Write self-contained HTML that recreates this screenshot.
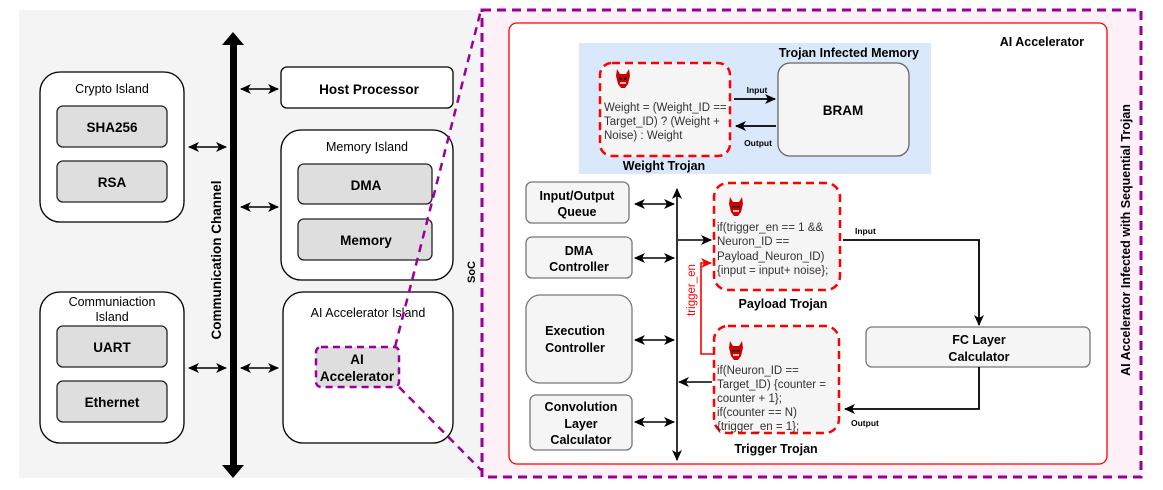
<!DOCTYPE html>
<html><head><meta charset="utf-8"><style>
body{margin:0;background:#fff}
svg{display:block;font-family:"Liberation Sans",Arial,sans-serif}
.b{font-weight:bold}
</style></head><body>
<svg width="1163" height="490" viewBox="0 0 1163 490" xmlns="http://www.w3.org/2000/svg">
<defs>
<marker id="a" markerWidth="12" markerHeight="12" refX="10" refY="6" orient="auto-start-reverse" markerUnits="userSpaceOnUse"><path d="M0,1 L11,6 L0,11 L3,6 Z" fill="#000"/></marker>
<marker id="r" markerWidth="12" markerHeight="12" refX="10" refY="6" orient="auto" markerUnits="userSpaceOnUse"><path d="M0,1 L11,6 L0,11 L3,6 Z" fill="#f00"/></marker>
<g id="dev"><path d="M-6,-9 L-3,-4 L3,-4 L6,-9 L7,-2 L5,6 L2,10 L-2,10 L-5,6 L-7,-2 Z" fill="#c00"/><path d="M-4,0 L-1,1 M4,0 L1,1" stroke="#000" stroke-width="1.5"/><path d="M-3,5 L3,5" stroke="#fff" stroke-width="1.5"/></g>
</defs>
<rect x="19" y="10" width="462" height="468" fill="#f4f4f4"/>
<rect x="482" y="10" width="659" height="467" fill="#fdf0f7" stroke="#990099" stroke-width="3" stroke-dasharray="9,6"/>
<rect x="509" y="23" width="598" height="441" rx="8" fill="#fff" stroke="#f00" stroke-width="1.3"/>

<rect x="40" y="72" width="144" height="150" rx="20" fill="#fff" stroke="#000" stroke-width="1.3"/>
<text x="112" y="93" font-size="12.5" text-anchor="middle">Crypto Island</text>
<rect x="57" y="106" width="110" height="41" rx="6" fill="#dedede" stroke="#222" stroke-width="1.3"/>
<text x="112" y="132" font-size="13.5" class="b" text-anchor="middle">SHA256</text>
<rect x="57" y="161" width="110" height="41" rx="6" fill="#dedede" stroke="#222" stroke-width="1.3"/>
<text x="112" y="187" font-size="13.5" class="b" text-anchor="middle">RSA</text>

<rect x="40" y="292" width="144" height="151" rx="20" fill="#fff" stroke="#000" stroke-width="1.3"/>
<text x="112" y="306" font-size="12.5" text-anchor="middle">Communiaction</text>
<text x="112" y="321" font-size="12.5" text-anchor="middle">Island</text>
<rect x="57" y="326" width="110" height="41" rx="6" fill="#dedede" stroke="#222" stroke-width="1.3"/>
<text x="112" y="352" font-size="13.5" class="b" text-anchor="middle">UART</text>
<rect x="57" y="381" width="110" height="41" rx="6" fill="#dedede" stroke="#222" stroke-width="1.3"/>
<text x="112" y="407" font-size="13.5" class="b" text-anchor="middle">Ethernet</text>

<rect x="230" y="42" width="7" height="426" fill="#000"/>
<path d="M222,45 L233,32 L244,45 Z M222,465 L233,478 L244,465 Z" fill="#000"/>
<text transform="translate(221,260) rotate(-90)" font-size="13.5" class="b" text-anchor="middle">Communication Channel</text>

<rect x="281" y="67" width="172" height="41" rx="6" fill="#fff" stroke="#000" stroke-width="1.3"/>
<text x="369" y="94" font-size="13.5" class="b" text-anchor="middle">Host Processor</text>
<rect x="281" y="130" width="172" height="150" rx="20" fill="#fff" stroke="#000" stroke-width="1.3"/>
<text x="367" y="151" font-size="12.5" text-anchor="middle">Memory Island</text>
<rect x="298" y="164" width="134" height="40" rx="6" fill="#dedede" stroke="#222" stroke-width="1.3"/>
<text x="366" y="190" font-size="13.5" class="b" text-anchor="middle">DMA</text>
<rect x="298" y="219" width="134" height="41" rx="6" fill="#dedede" stroke="#222" stroke-width="1.3"/>
<text x="366" y="245" font-size="13.5" class="b" text-anchor="middle">Memory</text>
<rect x="283" y="292" width="170" height="151" rx="20" fill="#fff" stroke="#000" stroke-width="1.3"/>
<text x="368" y="317" font-size="12.5" text-anchor="middle">AI Accelerator Island</text>
<rect x="316" y="347" width="83" height="40" rx="5" fill="#dedede" stroke="#990099" stroke-width="2.5" stroke-dasharray="7,5"/>
<text x="357" y="364" font-size="13.5" class="b" text-anchor="middle">AI</text>
<text x="357" y="381" font-size="13.5" class="b" text-anchor="middle">Accelerator</text>
<path d="M395,347 L481,10 M399,387 L481,470" stroke="#990099" stroke-width="2.5" stroke-dasharray="8,6" fill="none"/>
<text transform="translate(475,272) rotate(-90)" font-size="11" class="b" text-anchor="middle">SoC</text>

<g stroke="#000" stroke-width="1.6" marker-start="url(#a)" marker-end="url(#a)">
<line x1="189" y1="147" x2="226" y2="147"/>
<line x1="241" y1="89" x2="278" y2="89"/>
<line x1="241" y1="207" x2="278" y2="207"/>
<line x1="189" y1="368" x2="226" y2="368"/>
<line x1="241" y1="368" x2="278" y2="368"/>
</g>

<text x="1084" y="46" font-size="12.5" class="b" text-anchor="end">AI Accelerator</text>
<text transform="translate(1130,240) rotate(-90)" font-size="12.5" class="b" text-anchor="middle">AI Accelerator Infected with Sequential Trojan</text>

<rect x="579" y="43" width="352" height="131" fill="#dae8fc"/>
<text x="919" y="57" font-size="12.5" class="b" text-anchor="end">Trojan Infected Memory</text>
<rect x="600" y="63" width="130" height="93" rx="12" fill="#f5f5f5" stroke="#f00" stroke-width="2.5" stroke-dasharray="8,5"/>
<use href="#dev" transform="translate(623,78)"/>
<text font-size="11.5" fill="#333"><tspan x="604" y="111">Weight = (Weight_ID ==</tspan><tspan x="604" y="125">Target_ID) ? (Weight +</tspan><tspan x="604" y="139">Noise) : Weight</tspan></text>
<text x="664" y="170" font-size="12.5" class="b" text-anchor="middle">Weight Trojan</text>
<rect x="778" y="63" width="131" height="93" rx="12" fill="#f5f5f5" stroke="#666" stroke-width="1.3"/>
<text x="843" y="115" font-size="13.5" class="b" text-anchor="middle">BRAM</text>
<text x="757" y="93" font-size="8.5" class="b" text-anchor="middle">Input</text>
<line x1="734" y1="99" x2="775" y2="99" stroke="#000" stroke-width="1.8" marker-end="url(#a)"/>
<line x1="776" y1="126" x2="736" y2="126" stroke="#000" stroke-width="1.8" marker-end="url(#a)"/>
<text x="758" y="146" font-size="8.5" class="b" text-anchor="middle">Output</text>

<line x1="677" y1="189" x2="677" y2="460" stroke="#000" stroke-width="1.6" marker-start="url(#a)" marker-end="url(#a)"/>
<g fill="#f5f5f5" stroke="#777" stroke-width="1.3">
<rect x="526" y="182" width="103" height="41" rx="6"/>
<rect x="526" y="237" width="106" height="41" rx="6"/>
<rect x="526" y="295" width="106" height="88" rx="14"/>
<rect x="530" y="395" width="102" height="55" rx="6"/>
</g>
<g font-size="12.5" class="b" text-anchor="middle">
<text x="577" y="200">Input/Output</text><text x="577" y="216">Queue</text>
<text x="579" y="255">DMA</text><text x="579" y="271">Controller</text>
<text x="575" y="335">Execution</text><text x="575" y="352">Controller</text>
<text x="581" y="411">Convolution</text><text x="581" y="428">Layer</text><text x="581" y="444">Calculator</text>
</g>
<g stroke="#000" stroke-width="1.6" marker-start="url(#a)" marker-end="url(#a)">
<line x1="635" y1="204" x2="674" y2="204"/>
<line x1="635" y1="258" x2="674" y2="258"/>
<line x1="635" y1="340" x2="674" y2="340"/>
<line x1="635" y1="422" x2="674" y2="422"/>
</g>
<line x1="678" y1="240" x2="711" y2="240" stroke="#000" stroke-width="1.6" marker-end="url(#a)"/>
<line x1="712" y1="382" x2="679" y2="382" stroke="#000" stroke-width="1.6" marker-end="url(#a)"/>

<rect x="714" y="183" width="126" height="107" rx="14" fill="#f5f5f5" stroke="#f00" stroke-width="2.5" stroke-dasharray="8,5"/>
<use href="#dev" transform="translate(736,206)"/>
<text font-size="11.5" fill="#333"><tspan x="717" y="231">if(trigger_en == 1 &amp;&amp;</tspan><tspan x="717" y="245">Neuron_ID ==</tspan><tspan x="717" y="260">Payload_Neuron_ID)</tspan><tspan x="717" y="274">{input = input+ noise};</tspan></text>
<text x="783" y="308" font-size="12.5" class="b" text-anchor="middle">Payload Trojan</text>

<rect x="714" y="326" width="125" height="107" rx="14" fill="#f5f5f5" stroke="#f00" stroke-width="2.5" stroke-dasharray="8,5"/>
<use href="#dev" transform="translate(736,350)"/>
<text font-size="11.5" fill="#333"><tspan x="717" y="374">if(Neuron_ID ==</tspan><tspan x="717" y="388">Target_ID) {counter =</tspan><tspan x="717" y="402">counter + 1};</tspan><tspan x="717" y="416">if(counter == N)</tspan><tspan x="717" y="430">{trigger_en = 1};</tspan></text>
<text x="776" y="453" font-size="12.5" class="b" text-anchor="middle">Trigger Trojan</text>

<path d="M713,354 L701,354 L701,263 L711,263" fill="none" stroke="#f00" stroke-width="1.6" marker-end="url(#r)"/>
<text transform="translate(695,290) rotate(-90)" font-size="11.5" fill="#f00" text-anchor="middle">trigger_en</text>

<path d="M843,240 L979,240 L979,325" fill="none" stroke="#000" stroke-width="1.8" marker-end="url(#a)"/>
<text x="855" y="234" font-size="8.5" class="b">Input</text>
<rect x="866" y="327" width="224" height="40" rx="6" fill="#f5f5f5" stroke="#777" stroke-width="1.3"/>
<text x="979" y="344" font-size="12.5" class="b" text-anchor="middle">FC Layer</text>
<text x="979" y="361" font-size="12.5" class="b" text-anchor="middle">Calculator</text>
<path d="M979,367 L979,409 L845,409" fill="none" stroke="#000" stroke-width="1.8" marker-end="url(#a)"/>
<text x="851" y="426" font-size="8.5" class="b">Output</text>
</svg>
</body></html>
